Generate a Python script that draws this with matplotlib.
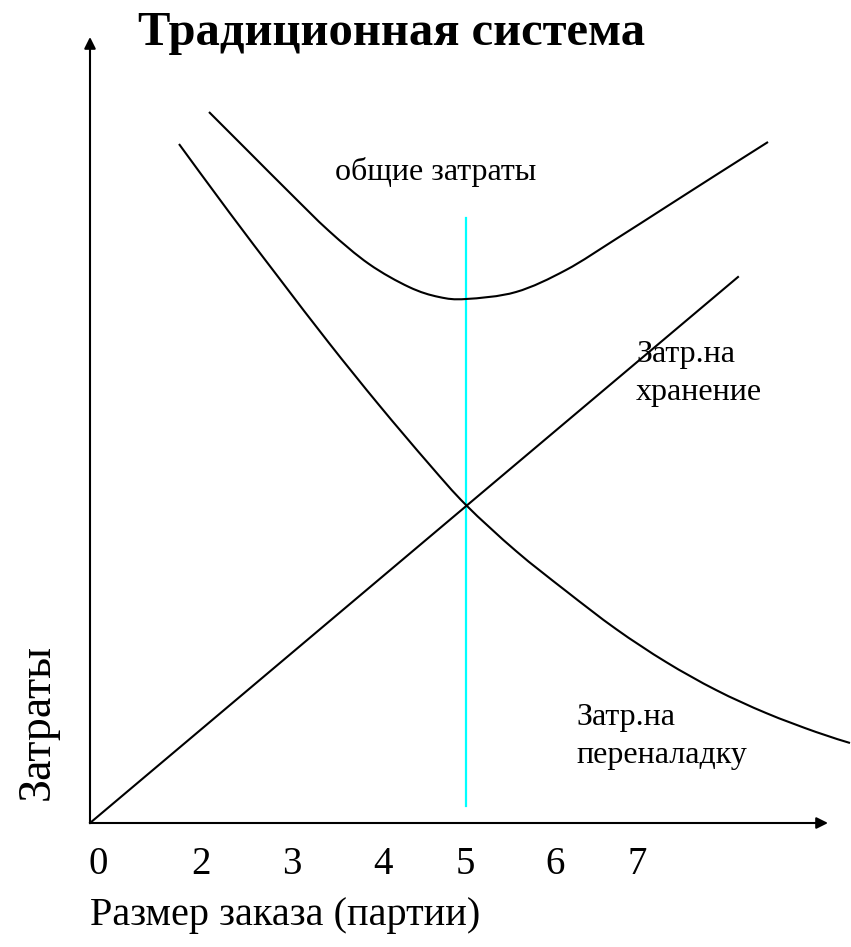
import matplotlib
matplotlib.use("Agg")
import matplotlib.pyplot as plt
from matplotlib.path import Path
from matplotlib.patches import PathPatch
import numpy as np

plt.rcParams['font.family'] = ['Liberation Serif', 'DejaVu Serif']

# ---- data (x: order size units, y: cost units) ----
holding_x = [0.0, 64.8]
holding_y = [0.0, 54.6]

setup_x = [8.9, 13.9, 18.9, 23.9, 28.9, 33.9, 37.6, 42.6, 47.6, 52.6, 57.6, 62.6, 67.6, 72.6, 76.0]
setup_y = [67.9, 61.1, 54.5, 48.0, 41.8, 35.9, 31.8, 27.2, 23.2, 19.4, 16.1, 13.3, 11.0, 9.1, 8.0]

total_x = [11.9, 15.9, 19.9, 23.9, 27.9, 31.9, 34.9, 37.6, 42.6, 47.6, 52.6, 57.6, 62.6, 67.8]
total_y = [71.1, 67.1, 63.1, 59.2, 55.9, 53.6, 52.6, 52.4, 53.1, 55.3, 58.4, 61.6, 64.8, 68.1]

optimum_x = 37.6
optimum_y = [1.7, 60.5]

tick_pos = [0.8, 11.1, 20.2, 29.3, 37.5, 46.5, 54.7]
tick_labels = ['0', '2', '3', '4', '5', '6', '7']

title = 'Традиционная система'
xlabel = 'Размер заказа (партии)'
ylabel = 'Затраты'
lbl_total = 'общие затраты'
lbl_hold = ['Затр.на', 'хранение']
lbl_setup = ['Затр.на', 'переналадку']


def smooth_path(xs, ys):
    """Catmull-Rom through the given points, drawn as cubic Bezier segments."""
    pts = np.column_stack([xs, ys])
    n = len(pts)
    verts = [pts[0]]
    codes = [Path.MOVETO]
    for i in range(n - 1):
        p0 = pts[i - 1] if i > 0 else pts[i]
        p1 = pts[i]
        p2 = pts[i + 1]
        p3 = pts[i + 2] if i + 2 < n else pts[i + 1]
        c1 = p1 + (p2 - p0) / 6.0
        c2 = p2 - (p3 - p1) / 6.0
        verts += [c1, c2, p2]
        codes += [Path.CURVE4] * 3
    return Path(verts, codes)


fig = plt.figure(figsize=(8.51, 9.47), dpi=100)
ax = fig.add_axes([0, 0, 1, 1])
ax.set_xlim(-9.0, 76.1)
ax.set_ylim(-12.4, 82.3)
for s in ax.spines.values():
    s.set_visible(False)

lw = 1.5
# axes arrows
ax.annotate('', xy=(73.8, 0), xytext=(0, 0),
            arrowprops=dict(arrowstyle='-|>', color='black', lw=lw, mutation_scale=17,
                            shrinkA=0, shrinkB=0))
ax.annotate('', xy=(0, 78.6), xytext=(0, 0),
            arrowprops=dict(arrowstyle='-|>', color='black', lw=lw, mutation_scale=17,
                            shrinkA=0, shrinkB=0))

# optimum line
ax.plot([optimum_x, optimum_x], optimum_y, color='#00FFFF', lw=1.6, zorder=2)

# curves
ax.plot(holding_x, holding_y, color='black', lw=lw, zorder=3)
ax.add_patch(PathPatch(smooth_path(setup_x, setup_y), fill=False, edgecolor='black', lw=lw, zorder=3))
ax.add_patch(PathPatch(smooth_path(total_x, total_y), fill=False, edgecolor='black', lw=lw, zorder=3))

# ticks
ax.set_xticks(tick_pos)
ax.set_xticklabels(tick_labels, fontsize=28)
ax.tick_params(axis='x', length=0, pad=-73)
ax.set_yticks([])

# texts
ax.text(4.8, 77.8, title, fontsize=35, fontweight='bold', ha='left', va='baseline')
ax.text(0.0, -10.2, xlabel, fontsize=29, ha='left', va='baseline')
ax.text(-4.1, 10.1, ylabel, fontsize=33, rotation=90, rotation_mode='anchor',
        ha='center', va='baseline')
ax.text(24.5, 65.1, lbl_total, fontsize=23, ha='left', va='center')
ax.text(54.6, 46.1, lbl_hold[0], fontsize=23, ha='left', va='baseline')
ax.text(54.6, 42.3, lbl_hold[1], fontsize=23, ha='left', va='baseline')
ax.text(48.6, 9.8, lbl_setup[0], fontsize=23, ha='left', va='baseline')
ax.text(48.6, 6.0, lbl_setup[1], fontsize=23, ha='left', va='baseline')

fig.savefig('out.png', dpi=100)
